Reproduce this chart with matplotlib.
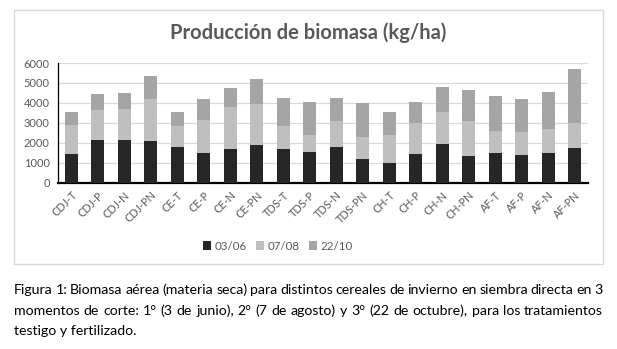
import numpy as np
from matplotlib import pyplot as plt
from matplotlib.patches import Rectangle

categories = ['CDJ-T', 'CDJ-P', 'CDJ-N', 'CDJ-PN', 'CE-T', 'CE-P', 'CE-N', 'CE-PN',
              'TDS-T', 'TDS-P', 'TDS-N', 'TDS-PN', 'CH-T', 'CH-P', 'CH-N', 'CH-PN',
              'AF-T', 'AF-P', 'AF-N', 'AF-PN']
corte_0306 = [1440, 2140, 2140, 2110, 1790, 1470, 1680, 1910, 1690, 1560,
              1810, 1210, 970, 1440, 1960, 1320, 1490, 1370, 1470, 1760]
corte_0708 = [1460, 1510, 1560, 2110, 1060, 1650, 2090, 2040, 1160, 820,
              1290, 1100, 1430, 1540, 1590, 1780, 1110, 1180, 1230, 1240]
corte_2210 = [630, 790, 820, 1140, 680, 1070, 990, 1260, 1400, 1670,
              1170, 1710, 1130, 1060, 1260, 1570, 1740, 1670, 1870, 2710]
series_labels = ['03/06', '07/08', '22/10']
colors = ['#262626', '#bfbfbf', '#a5a5a5']

caption = ["Figura 1: Biomasa aérea (materia seca) para distintos cereales de invierno en siembra directa en 3",
           "momentos de corte: 1° (3 de junio), 2° (7 de agosto) y 3° (22 de octubre), para los tratamientos",
           "testigo y fertilizado."]

plt.rcParams['font.family'] = ['Lato', 'DejaVu Sans']

W, H = 617, 349
fig = plt.figure(figsize=(W / 100, H / 100), dpi=100)

# chart frame
fig.patches.append(Rectangle((14 / W, 1 - 264 / H), (603 - 14) / W, (264 - 10) / H,
                             transform=fig.transFigure, fill=False, edgecolor='#d9d9d9', lw=1))

ax = fig.add_axes([58 / W, 1 - 182.7 / H, (588 - 58) / W, (182.7 - 63) / H])
x = np.arange(len(categories))
bottom = np.zeros(len(categories))
for vals, lab, col in zip([corte_0306, corte_0708, corte_2210], series_labels, colors):
    ax.bar(x, vals, width=0.5, bottom=bottom, color=col, label=lab, zorder=3)
    bottom += np.array(vals)

ax.set_xlim(-0.5, len(categories) - 0.5)
ax.set_ylim(0, 6000)
ax.set_yticks(np.arange(0, 6001, 1000))
ax.yaxis.grid(True, color='#d9d9d9', lw=0.9, zorder=0)
ax.set_xticks(x)
ax.set_xticklabels(categories, rotation=45, ha='right', rotation_mode='anchor',
                   fontsize=7.8, color='#595959')
ax.tick_params(axis='y', labelsize=8, labelcolor='#595959', length=0, pad=6)
ax.tick_params(axis='x', length=0, pad=5)
for s in ['top', 'right']:
    ax.spines[s].set_visible(False)
ax.spines['left'].set_color('black')
ax.spines['left'].set_linewidth(0.9)
ax.spines['bottom'].set_color('black')
ax.spines['bottom'].set_linewidth(1.6)

fig.text(308 / W, 1 - 33 / H, 'Producción de biomasa (kg/ha)', ha='center', va='center',
         fontsize=14.5, fontweight='bold', color='#595959')

fig.legend(loc='center', bbox_to_anchor=(278 / W, 1 - 246 / H), ncol=3, frameon=False,
           fontsize=8.3, handlelength=0.7, handleheight=0.7, handletextpad=0.3,
           columnspacing=0.8, labelcolor='#595959')

# caption, first two lines justified
renderer = fig.canvas.get_renderer()
left, right = 14, 603
ys = [290, 311, 331]
fs = 10.2
for i, line in enumerate(caption):
    if i == len(caption) - 1:
        fig.text(left / W, 1 - ys[i] / H, line, ha='left', va='center', fontsize=fs, color='black')
        continue
    words = line.split(' ')
    texts = [fig.text(0, 1 - ys[i] / H, w, ha='left', va='center', fontsize=fs, color='black')
             for w in words]
    widths = [t.get_window_extent(renderer).width for t in texts]
    gap = (right - left - sum(widths)) / (len(words) - 1)
    pos = left
    for t, wd in zip(texts, widths):
        t.set_x(pos / W)
        pos += wd + gap

fig.savefig('out.png', dpi=100)
